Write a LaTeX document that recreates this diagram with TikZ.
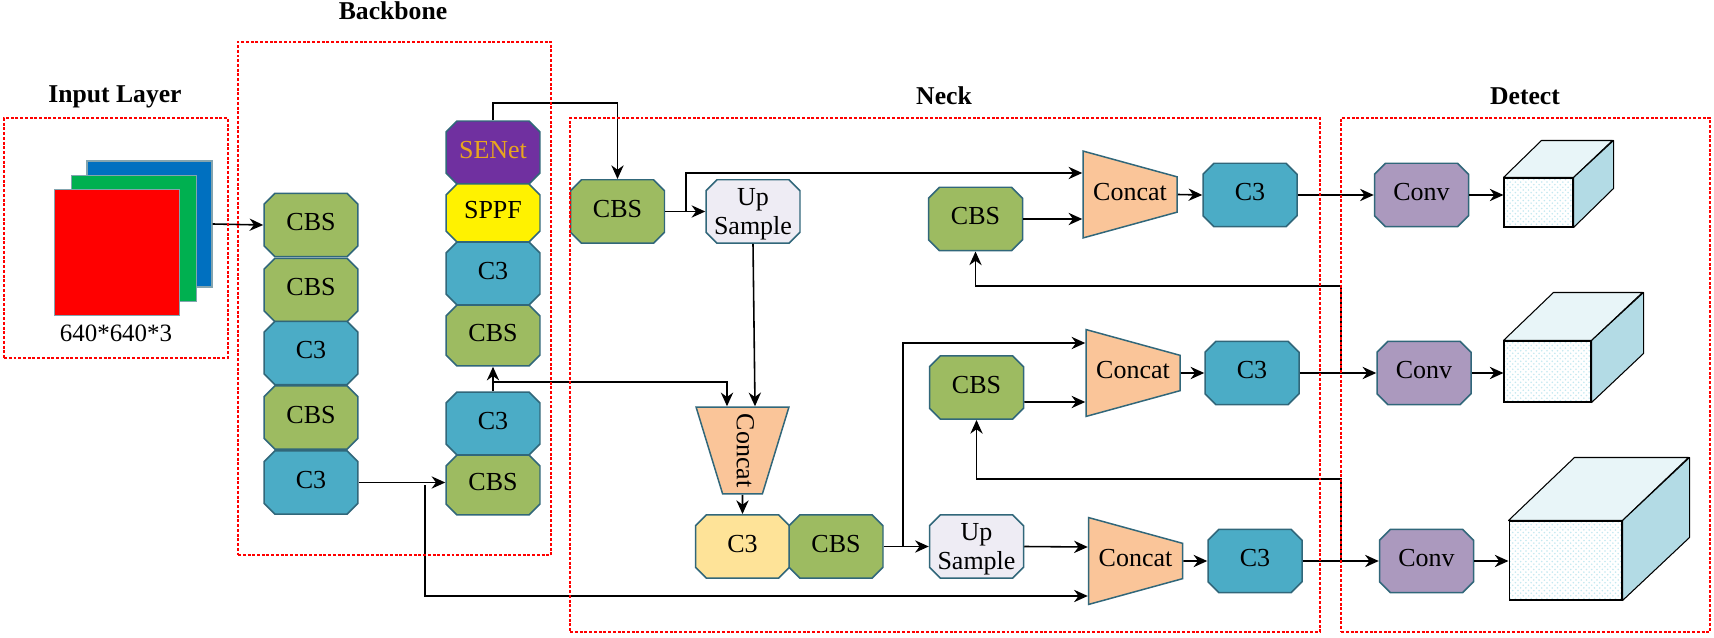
\documentclass[tikz,border=0pt]{standalone}
\usepackage{fontspec}
\setmainfont{Liberation Serif}
\usetikzlibrary{arrows.meta,shapes.geometric,shapes.misc,patterns,positioning}
\definecolor{edgeteal}{HTML}{31677A}
\definecolor{cbsgreen}{HTML}{9DBB61}
\definecolor{cthreeblue}{HTML}{4BACC6}
\definecolor{senetpurple}{HTML}{7030A0}
\definecolor{senetgold}{HTML}{E8A51E}
\definecolor{convpurple}{HTML}{AB99BE}
\definecolor{uplilac}{HTML}{EEECF4}
\definecolor{concatorange}{HTML}{FAC599}
\definecolor{cyellow}{HTML}{FEE398}
\definecolor{facetop}{HTML}{E8F5F8}
\definecolor{faceside}{HTML}{B3DBE5}
\definecolor{facedot}{HTML}{C4E8F0}
\tikzset{
  block/.style={draw=edgeteal,line width=.85pt,chamfered rectangle,chamfered rectangle xsep=.12cm,chamfered rectangle ysep=.1cm,minimum width=1.88cm,minimum height=1.27cm,inner sep=0pt,align=center,text depth=3.5pt,font=\fontsize{14.8}{16}\selectfont},
  cbs/.style={block,fill=cbsgreen},
  cthree/.style={block,fill=cthreeblue},
  conv/.style={block,fill=convpurple},
  upsample/.style={block,fill=uplilac,text depth=0pt},
  concat/.style={draw=edgeteal,line width=.85pt,fill=concatorange,trapezium,trapezium left angle=77,trapezium right angle=77,trapezium stretches=true,shape border rotate=270,minimum width=1.74cm,minimum height=1.88cm,inner sep=0pt,text depth=3.5pt,font=\fontsize{14.8}{16}\selectfont},
  sheet/.style={draw=edgeteal!60,line width=.7pt,rectangle,minimum width=2.5cm,minimum height=2.52cm},
  region/.style={draw=red,line width=1.1pt,dash pattern=on 1.7pt off 1pt,rectangle},
  heading/.style={font=\fontsize{14.6}{16}\selectfont\bfseries},
  front/.style={draw=black,line width=.6pt,rectangle,preaction={fill=white},pattern=crosshatch dots,pattern color=facedot},
  topface/.style={draw=black,line width=.6pt,fill=facetop,line join=round},
  sideface/.style={draw=black,line width=.6pt,fill=faceside,line join=round},
  link/.style={line width=.9pt}
}
\begin{document}
\begin{tikzpicture}[x=.02cm,y=-.02cm,>={Stealth[length=7.8pt,width=7pt]}]
\useasboundingbox (0,0) rectangle (1714,638);
\node[sheet,fill={rgb,255:red,0;green,112;blue,192}] (sq3) at (149.5,224) {};
\node[sheet,fill={rgb,255:red,0;green,176;blue,80}] (sq2) at (134,238.5) {};
\node[sheet,fill=red] (sq1) at (117,252.5) {};
\node[font=\fontsize{14.2}{16}\selectfont] (size) at (116,333) {640*640*3};
\node[cbs] (b1) at (311,225) {CBS};
\node[cbs] (b2) at (311,290) {CBS};
\node[cthree] (b3) at (311,353) {C3};
\node[cbs] (b4) at (311,417.5) {CBS};
\node[cthree] (b5) at (311,482.5) {C3};
\node[block,fill=senetpurple,text=senetgold,minimum height=1.26cm] (b6) at (493,152.5) {SENet};
\node[block,fill=yellow,minimum height=1.16cm] (b7) at (493,213) {SPPF};
\node[cthree,minimum height=1.26cm] (b8) at (493,273.5) {C3};
\node[cbs,minimum height=1.22cm] (b9) at (493,335.5) {CBS};
\node[cthree,minimum height=1.26cm] (b10) at (493,423.5) {C3};
\node[cbs,minimum height=1.2cm] (b11) at (493,485) {CBS};
\node[cbs] (n1) at (617.5,211.5) {CBS};
\node[upsample] (n2) at (753,211.5) {Up\\Sample};
\node[cbs] (n3) at (975.5,219) {CBS};
\node[concat] (n4) at (1130,194.5) {Concat};
\node[cthree] (n5) at (1250,195) {C3};
\node[cbs] (n6) at (976.5,387.5) {CBS};
\node[concat] (n7) at (1133,373) {Concat};
\node[cthree] (n8) at (1252,373) {C3};
\node[concat,rotate=-90,minimum width=1.86cm,minimum height=1.74cm,trapezium left angle=78,trapezium right angle=78] (n9) at (742.5,450.5) {Concat};
\node[block,fill=cyellow] (n10) at (742.5,546.5) {C3};
\node[cbs] (n11) at (836,546.5) {CBS};
\node[upsample] (n12) at (976.5,546.5) {Up\\Sample};
\node[concat] (n13) at (1135.5,561) {Concat};
\node[cthree] (n14) at (1255,561) {C3};
\node[conv] (d1) at (1421.5,195) {Conv};
\node[conv] (d2) at (1424,373) {Conv};
\node[conv] (d3) at (1426.5,561) {Conv};
\node[front,minimum width=1.38cm,minimum height=.98cm] (f1) at (1538.5,202.5) {};
\node[front,minimum width=1.74cm,minimum height=1.22cm] (f2) at (1547.5,371.5) {};
\node[front,minimum width=2.26cm,minimum height=1.58cm] (f3) at (1565.5,560.5) {};
\draw[topface] (f1.north west) -- ++(38,-37) -- ++(71,0) -- (f1.north east) -- cycle;
\draw[sideface] (f1.north east) -- ++(40,-37) -- ++(0,48) -- (f1.south east) -- cycle;
\draw[topface] (f2.north west) -- ++(50,-48) -- ++(89,0) -- (f2.north east) -- cycle;
\draw[sideface] (f2.north east) -- ++(52,-48) -- ++(0,61) -- (f2.south east) -- cycle;
\draw[topface] (f3.north west) -- ++(66,-63) -- ++(114,0) -- (f3.north east) -- cycle;
\draw[sideface] (f3.north east) -- ++(67,-63) -- ++(0,80) -- (f3.south east) -- cycle;
\coordinate (j1) at (686,212);
\coordinate (j2) at (1341,195);
\coordinate (k2) at (1341,286);
\coordinate (j3) at (1341,373);
\coordinate (k3) at (1341,479);
\coordinate (j4) at (1341,561);
\coordinate (j5) at (903,547);
\coordinate (j6) at (425,485);
\coordinate (j7) at (493,382);
\draw[link,->] (sq3.east) -- (b1.west);
\draw[link,->] (b5.east) -- (b5.east -| b11.west);
\draw[link,->] (b10.north) -- (b9.south);
\draw[link,->] (b6.north) -- ++(0,-17) -| (n1.north);
\draw[link,->] (n1.east) -- (n2.west);
\draw[link,->] (j1) |- ([yshift=.43cm]n4.west);
\draw[link,->] (n2.south) -- ([xshift=.25cm]n9.west);
\draw[link,->] (j7) -| ([xshift=-.31cm]n9.west);
\draw[link,->] (n9.east) -- (n10.north);
\draw[link,->] (n3.east) -- (n3.east -| n4.west);
\draw[link,->] (n4.east) -- (n5.west);
\draw[link,->] (n5.east) -- (d1.west);
\draw[link,->] (d1.east) -- (d1.east -| f1.west);
\draw[link,->] (j3) -- (k2) -| (n3.south);
\draw[link,->] (j5) |- ([yshift=.6cm]n7.west);
\draw[link,->] ([yshift=-.29cm]n6.east) -- ([yshift=-.58cm]n7.west);
\draw[link,->] (n7.east) -- (n8.west);
\draw[link,->] (n8.east) -- (d2.west);
\draw[link,->] (d2.east) -- (d2.east -| f2.west);
\draw[link,->] (j4) -- (k3) -| (n6.south);
\draw[link,->] (n11.east) -- (n12.west);
\draw[link,->] (n12.east) -- ([yshift=.28cm]n13.west);
\draw[link,->] (j6) |- ([yshift=-.7cm]n13.west);
\draw[link,->] (n13.east) -- (n14.west);
\draw[link,->] (n14.east) -- (d3.west);
\draw[link,->] (d3.east) -- (d3.east -| f3.west);
\node[region,minimum width=4.48cm,minimum height=4.8cm] (r1) at (116,238) {};
\node[region,minimum width=6.26cm,minimum height=10.28cm] (r2) at (394.5,298.5) {};
\node[region,minimum width=15cm,minimum height=10.28cm] (r3) at (945,375) {};
\node[region,minimum width=7.38cm,minimum height=10.28cm] (r4) at (1525.5,375) {};
\node[heading] (t1) at (115,97) {Input Layer};
\node[heading] (t2) at (393,11) {Backbone};
\node[heading] (t3) at (944,96) {Neck};
\node[heading] (t4) at (1525,96) {Detect};
\end{tikzpicture}
\end{document}
